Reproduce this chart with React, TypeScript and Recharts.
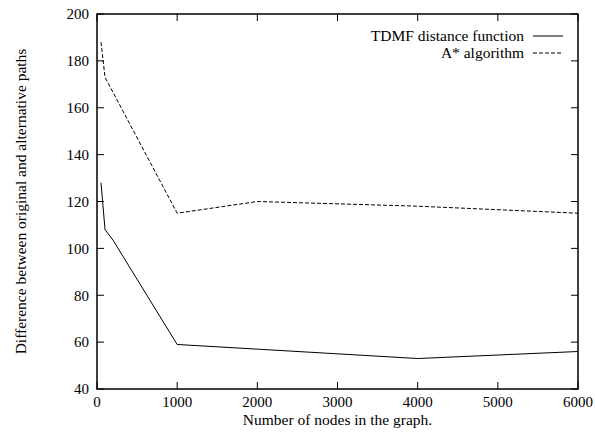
import { ComposedChart, Line, ReferenceArea, Scatter, XAxis, YAxis } from "recharts";

const nodes = [50, 100, 200, 1000, 2000, 4000, 6000];
const tdmf = [128, 108, 103.5, 59, 57, 53, 56];
const astar = [188, 173, null, 115, 120, 118, 115];
const xTicks = [0, 1000, 2000, 3000, 4000, 5000, 6000];
const yTicks = [40, 60, 80, 100, 120, 140, 160, 180, 200];
const xMin = 0;
const xMax = 6000;
const yMin = 40;
const yMax = 200;

const data = nodes.map((n, i) => ({ n, tdmf: tdmf[i], astar: astar[i] }));

// tick marks along the four sides of the box, gnuplot style (inward, mirrored)
const leftTicks = yTicks.map((v) => ({ n: xMin, t: v }));
const rightTicks = yTicks.map((v) => ({ n: xMax, t: v }));
const bottomTicks = xTicks.map((v) => ({ n: v, t: yMin }));
const topTicks = xTicks.map((v) => ({ n: v, t: yMax }));

const FONT = "'Liberation Serif', 'Times New Roman', serif";
const tickStyle = { fontFamily: FONT, fontSize: 15, fill: "#000" };
const TICK = 7;

const tickShape = (dx: number, dy: number) => (p: any) =>
  <line x1={p.cx} y1={p.cy} x2={p.cx + dx} y2={p.cy + dy} stroke="#000" strokeWidth={1} />;

function Legend() {
  const rows = [
    { name: "TDMF distance function", dash: undefined },
    { name: "A* algorithm", dash: "4 2" },
  ];
  return (
    <div style={{ position: "absolute", right: 31, top: 27, fontFamily: FONT, fontSize: 15.5, lineHeight: "17px" }}>
      {rows.map((r) => (
        <div key={r.name} style={{ display: "flex", alignItems: "center", justifyContent: "flex-end", height: 17 }}>
          <span>{r.name}</span>
          <svg width={40} height={10}>
            <line x1={9} x2={39} y1={5} y2={5} stroke="#000" strokeDasharray={r.dash} />
          </svg>
        </div>
      ))}
    </div>
  );
}

export default function App() {
  return (
    <div style={{ position: "absolute", left: 0, top: 0, width: 595, height: 434, background: "#fff" }}>
      <ComposedChart width={595} height={434} data={data} margin={{ top: 14, right: 17, bottom: 0, left: 0 }}>
        <XAxis
          xAxisId="b"
          dataKey="n"
          type="number"
          domain={[xMin, xMax]}
          ticks={xTicks}
          height={45}
          tickSize={0}
          tickMargin={7}
          axisLine={false}
          tickLine={false}
          tick={tickStyle}
          label={{
            content: (p: any) => {
              const vb = p.viewBox || {};
              return (
                <text x={vb.x + vb.width / 2} y={vb.y + 36} textAnchor="middle" fontFamily={FONT} fontSize={15.5} fill="#000">
                  Number of nodes in the graph.
                </text>
              );
            },
          }}
        />
        <YAxis
          yAxisId="l"
          type="number"
          domain={[yMin, yMax]}
          ticks={yTicks}
          width={97}
          tickSize={0}
          tickMargin={8}
          axisLine={false}
          tickLine={false}
          tick={tickStyle}
          label={{
            content: (p: any) => {
              const vb = p.viewBox || {};
              const cx = vb.x + 22;
              const cy = vb.y + vb.height / 2;
              return (
                <text
                  x={cx}
                  y={cy}
                  transform={`rotate(-90 ${cx} ${cy})`}
                  textAnchor="middle"
                  dominantBaseline="middle"
                  fontFamily={FONT}
                  fontSize={15.5}
                  fill="#000"
                >
                  Difference between original and alternative paths
                </text>
              );
            },
          }}
        />
        {/* plot frame */}
        <ReferenceArea
          xAxisId="b"
          yAxisId="l"
          x1={xMin}
          x2={xMax}
          y1={yMin}
          y2={yMax}
          fill="none"
          fillOpacity={0}
          stroke="#000"
          strokeWidth={1.5}
          strokeOpacity={1}
          ifOverflow="visible"
        />
        <Scatter xAxisId="b" yAxisId="l" data={leftTicks} dataKey="t" shape={tickShape(TICK, 0)} isAnimationActive={false} />
        <Scatter xAxisId="b" yAxisId="l" data={rightTicks} dataKey="t" shape={tickShape(-TICK, 0)} isAnimationActive={false} />
        <Scatter xAxisId="b" yAxisId="l" data={bottomTicks} dataKey="t" shape={tickShape(0, -TICK)} isAnimationActive={false} />
        <Scatter xAxisId="b" yAxisId="l" data={topTicks} dataKey="t" shape={tickShape(0, TICK)} isAnimationActive={false} />
        <Line
          xAxisId="b"
          yAxisId="l"
          type="linear"
          dataKey="tdmf"
          stroke="#000"
          strokeWidth={1}
          dot={false}
          isAnimationActive={false}
        />
        <Line
          xAxisId="b"
          yAxisId="l"
          type="linear"
          dataKey="astar"
          stroke="#000"
          strokeWidth={1}
          strokeDasharray="4 2"
          connectNulls
          dot={false}
          isAnimationActive={false}
        />
      </ComposedChart>
      <Legend />
    </div>
  );
}
